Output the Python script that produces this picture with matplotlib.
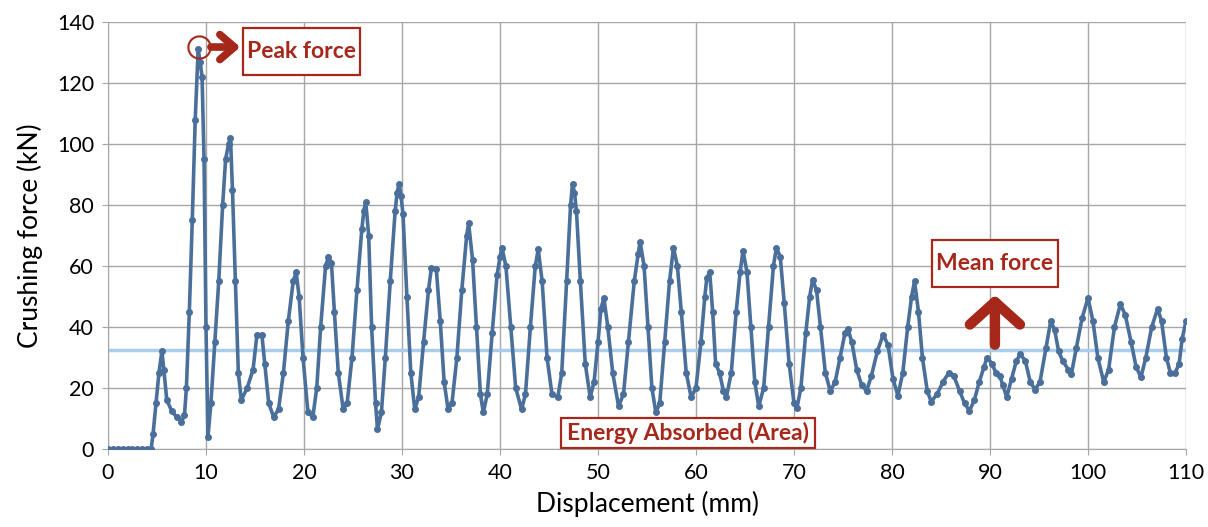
import numpy as np
import matplotlib.pyplot as plt
from matplotlib.patches import Rectangle

# displacement (mm) / crushing force (kN)
disp = [0, 0.5, 1, 1.5, 2, 2.5, 3, 3.5, 4, 4.4, 4.6, 4.9, 5.2, 5.5, 5.7, 6.0, 6.5, 7.0, 7.5, 7.8,
        8.0, 8.3, 8.6, 8.9, 9.2, 9.4, 9.6, 9.8, 10.0, 10.2, 10.5, 10.9, 11.3, 11.7,
        12.0, 12.3, 12.5, 12.7, 13.0, 13.3, 13.6, 14.2, 14.8, 15.2, 15.7, 16.0, 16.4,
        16.9, 17.4, 17.9, 18.4, 18.9, 19.2, 19.5, 19.9, 20.4, 20.9, 21.3, 21.7, 22.2,
        22.5, 22.8, 23.1, 23.5, 24.0, 24.4, 24.9, 25.4, 25.9, 26.1, 26.3, 26.6, 26.9, 27.3,
        27.5, 27.9, 28.3, 28.8, 29.3, 29.5, 29.7, 29.9, 30.1, 30.5, 30.9, 31.3, 31.7, 32.2, 32.7,
        33.0, 33.5, 33.9, 34.3, 34.7, 35.1, 35.6, 36.1, 36.6, 36.8, 37.2, 37.6, 38.0,
        38.3, 38.7, 39.2, 39.7, 40.0, 40.2, 40.6, 41.1, 41.6, 42.2, 42.6, 43.1, 43.6, 43.9,
        44.3, 44.8, 45.3, 45.9, 46.3, 46.8, 47.2, 47.4, 47.6, 47.8, 48.2, 48.7, 49.2, 49.6,
        50.0, 50.3, 50.6, 51.0, 51.5, 52.1, 52.6, 53.1, 53.7, 54.1, 54.3, 54.7, 55.1, 55.5,
        55.9, 56.3, 56.8, 57.3, 57.7, 58.1, 58.5, 59.0, 59.5, 60.0, 60.5, 60.9, 61.1,
        61.4, 61.7, 62.0, 62.4, 62.8, 63.1, 63.6, 64.1, 64.5, 64.8, 65.2, 65.6, 66.0,
        66.4, 66.9, 67.4, 67.9, 68.2, 68.6, 69.0, 69.5, 70.0, 70.3, 70.7, 71.2, 71.6,
        71.9, 72.3, 72.7, 73.2, 73.7, 74.2, 74.7, 75.2, 75.5, 75.9, 76.4, 76.9, 77.4,
        77.9, 78.5, 79.1, 79.6, 80.1, 80.6, 81.1, 81.6, 82.0, 82.3, 82.7, 83.1, 83.6,
        84.0, 84.6, 85.2, 85.8, 86.3, 86.9, 87.4, 87.9, 88.4, 88.9, 89.4, 89.7, 90.2,
        90.6, 91.0, 91.3, 91.7, 92.2, 92.7, 93.1, 93.6, 94.1, 94.6, 95.1, 95.7, 96.2,
        96.6, 97.0, 97.4, 98.0, 98.3, 98.8, 99.4, 100.0, 100.5, 101.0, 101.6, 102.1,
        102.7, 103.3, 103.8, 104.4, 104.9, 105.4, 105.9, 106.5, 107.1, 107.5, 108.0,
        108.4, 108.9, 109.3, 109.6, 110.0]
force = [0, 0, 0, 0, 0, 0, 0, 0, 0, 0, 5, 15, 25, 32, 26, 16, 12.5, 10.5, 9, 11,
         20, 45, 75, 108, 131, 127, 122, 95, 40, 4, 15, 35, 55, 80,
         95, 100, 102, 85, 55, 25, 16, 20, 26, 37.5, 37.5, 28, 15,
         10.5, 13, 25, 42, 55, 58, 50, 30, 12, 10.5, 20, 40, 60,
         63, 61, 45, 25, 13, 15, 30, 52, 72, 78, 81, 70, 40, 15,
         6.5, 12, 30, 55, 78, 84, 87, 83, 77, 50, 25, 13, 17, 35, 52,
         59.5, 59, 42, 22, 13, 15, 30, 52, 70, 74, 62, 40, 18,
         12, 18, 38, 57, 63, 66, 60, 40, 20, 13, 18, 40, 60, 65.5,
         55, 30, 18, 17, 25, 55, 80, 87, 84, 78, 55, 28, 17, 22,
         35, 46, 49.5, 40, 25, 14, 18, 35, 55, 64, 68, 60, 40, 20,
         12, 15, 35, 55, 66, 60, 45, 25, 17, 20, 35, 50, 56,
         58, 45, 28, 25, 19, 17, 25, 45, 58, 65, 58, 40, 22,
         14, 20, 40, 60, 66, 63, 48, 28, 15, 13.5, 20, 38, 50,
         55.5, 52, 40, 25, 19, 22, 30, 38, 39.5, 35, 26, 21, 19,
         24, 32, 37.5, 34, 23, 17.5, 25, 40, 50, 55, 45, 30, 19,
         15.5, 18, 22, 25, 24, 19, 15, 12.5, 16, 22, 27, 30, 28,
         25, 24, 21, 17, 23, 29, 31, 29, 22, 19.5, 22, 33, 42,
         39, 32, 29, 26, 24.5, 33, 43, 49.5, 42, 30, 22, 26,
         40, 47.5, 44, 35, 27, 23.5, 30, 40, 46, 42, 30,
         25, 25, 28, 36, 42]

mean_force = 32.5
x_ticks = list(range(0, 111, 10))
y_ticks = list(range(0, 141, 20))

red = '#a5281b'
blue = '#4a6f9b'

plt.rcParams['font.family'] = ['Lato', 'DejaVu Sans']

fig = plt.figure(figsize=(12.08, 5.27), dpi=100)
ax = fig.add_axes([0.0894, 0.148, 0.8924, 0.8102])

ax.plot([0, 110], [mean_force, mean_force], color='#a9cdea', lw=2.5, zorder=2)
ax.plot(disp, force, color=blue, lw=2.6, marker='o', ms=4, zorder=3)

ax.set_xlim(0, 110)
ax.set_ylim(0, 140)
ax.set_xticks(x_ticks)
ax.set_yticks(y_ticks)
ax.grid(True, color='#a6a6a6', lw=1)
ax.set_axisbelow(True)
for s in ['top', 'right']:
    ax.spines[s].set_visible(False)
for s in ['left', 'bottom']:
    ax.spines[s].set_color('#a6a6a6')
ax.tick_params(colors='#a6a6a6', labelcolor='black', labelsize=15.5, length=4, pad=6)
ax.set_xlabel('Displacement (mm)', fontsize=19, labelpad=6)
ax.set_ylabel('Crushing force (kN)', fontsize=19, labelpad=10)


def label_box(x0, x1, y0, y1, txt):
    ax.add_patch(Rectangle((x0, y0), x1 - x0, y1 - y0, fc='white', ec=red,
                           lw=1.6, zorder=6, clip_on=False))
    ax.text((x0 + x1) / 2, (y0 + y1) / 2, txt, color=red, fontsize=16.5,
            fontweight='bold', ha='center', va='center', zorder=7)


arrow_kw = dict(color=red, lw=5.5, capstyle='round', joinstyle='round')

# peak force marker + arrow + label
ax.plot([9.3], [131.8], marker='o', ms=16, mfc='none', mec=red, mew=1.5, zorder=5)
ax.annotate('', xy=(13.5, 131.8), xytext=(10.5, 131.8),
            arrowprops=dict(arrowstyle='->,head_length=0.35,head_width=0.3',
                            mutation_scale=30, shrinkA=0, shrinkB=0, **arrow_kw), zorder=5)
label_box(13.78, 25.71, 122.6, 138.0, 'Peak force')

# mean force label + arrow
label_box(84.08, 96.94, 53.1, 68.5, 'Mean force')
ax.annotate('', xy=(90.5, 50.5), xytext=(90.5, 34.2),
            arrowprops=dict(arrowstyle='->,head_length=0.45,head_width=0.5',
                            mutation_scale=36, shrinkA=0, shrinkB=0,
                            **dict(arrow_kw, lw=7.5)), zorder=5)

# energy absorbed label
label_box(46.22, 72.14, 0.4, 10.2, 'Energy Absorbed (Area)')

fig.savefig('out.png', dpi=100)
